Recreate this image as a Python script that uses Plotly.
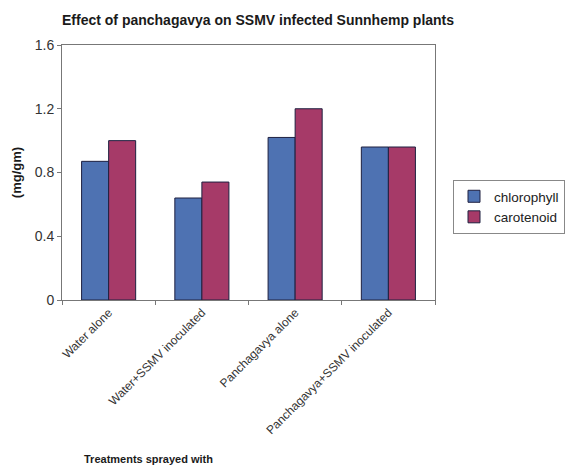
import plotly.graph_objects as go

categories = ["Water alone", "Water+SSMV inoculated", "Panchagavya alone", "Panchagavya+SSMV inoculated"]
chlorophyll = [0.87, 0.64, 1.02, 0.96]
carotenoid = [1.00, 0.74, 1.20, 0.96]
y_ticks = [0, 0.4, 0.8, 1.2, 1.6]
y_tick_labels = ["0", "0.4", "0.8", "1.2", "1.6"]

FONT = "Liberation Sans Narrow, Liberation Sans, Arial, sans-serif"

fig = go.Figure()
fig.add_trace(go.Bar(x=categories, y=chlorophyll, name="chlorophyll",
                     marker=dict(color="#4E72B2", line=dict(color="#1E2040", width=1))))
fig.add_trace(go.Bar(x=categories, y=carotenoid, name="carotenoid",
                     marker=dict(color="#A63A68", line=dict(color="#1E2040", width=1))))

fig.update_layout(
    width=574, height=466,
    margin=dict(l=62, r=139, t=45, b=166, autoexpand=False),
    paper_bgcolor="white", plot_bgcolor="white",
    barmode="group", bargap=0.42, bargroupgap=0,
    font=dict(family="Liberation Sans, Arial, sans-serif", color="#333333"),
    title=dict(text="<b>Effect of panchagavya on SSMV infected Sunnhemp plants</b>",
               x=62/574, xanchor="left", y=1-20/466, yanchor="middle",
               font=dict(family=FONT, size=14, color="#1a1a1a")),
    legend=dict(x=(453-62)/373, xanchor="left", y=(300-180)/255, yanchor="top",
                bordercolor="#888888", borderwidth=1, bgcolor="white",
                font=dict(size=13.5, color="#222222"), itemwidth=30,
                tracegroupgap=2),
    showlegend=True,
)
fig.update_xaxes(
    type="category", tickangle=-45, tickson="boundaries", automargin=False,
    ticks="outside", ticklen=4, tickcolor="#777777",
    showline=True, linecolor="#777777", linewidth=1, mirror=True,
    tickfont=dict(size=12, color="#333333"),
    showgrid=False,
)
fig.update_yaxes(
    range=[0, 1.6], tickvals=y_ticks, ticktext=y_tick_labels, automargin=False,
    ticks="outside", ticklen=4, tickcolor="#777777",
    showline=True, linecolor="#777777", linewidth=1, mirror=True,
    showgrid=False, zeroline=False,
    tickfont=dict(size=14, color="#333333"),
    title=dict(text="<b>(mg/gm)</b>", standoff=10,
               font=dict(size=13, color="#1a1a1a")),
)
fig.add_annotation(text="<b>Treatments sprayed with</b>", xref="paper", yref="paper",
                   x=(148-62)/373, y=-(459-300)/255, xanchor="center", yanchor="middle",
                   showarrow=False, font=dict(family=FONT, size=11, color="#1a1a1a"))

fig.write_html("out.html", config={"displayModeBar": False},
               post_script="document.body.style.margin='0';")
